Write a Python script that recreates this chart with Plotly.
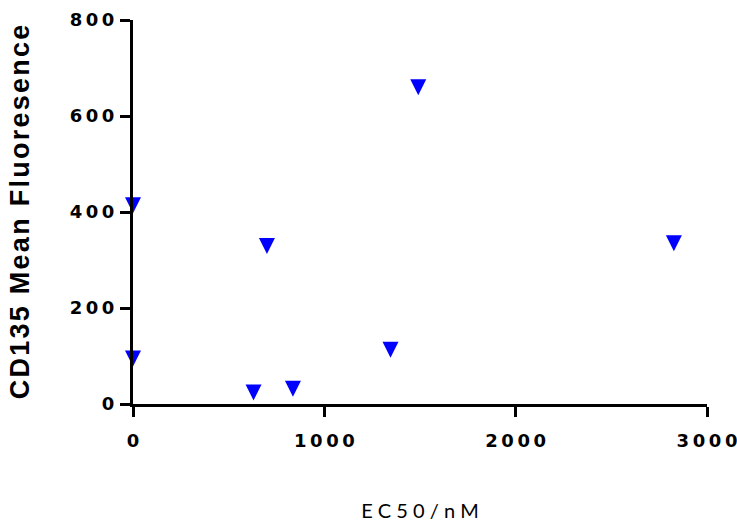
import plotly.graph_objects as go

# Data
ec50_nM = [0, 0, 630, 700, 836, 1346, 1491, 2827]
cd135_mfi = [414, 95, 24, 329, 32, 113, 660, 335]

x_tick_vals = [0, 1000, 2000, 3000]
x_tick_labels = ["0", "1000", "2000", "3000"]
y_tick_vals = [0, 200, 400, 600, 800]
y_tick_labels = ["0", "200", "400", "600", "800"]

x_title = "EC50/nM"
y_title = "CD135 Mean Fluoresence"

SP = "\u2009"   # thin space between tick-label digits
HS = "\u200a"   # hair space for y title


def spaced(s, sep):
    return sep.join(list(s))


fig = go.Figure()
fig.add_trace(go.Scatter(
    x=ec50_nM, y=cd135_mfi, mode="markers",
    marker=dict(symbol="arrow-down", angle=0, standoff=8, size=16, color="#0000FF",
                line=dict(width=0)),
    cliponaxis=False, showlegend=False,
))

axis_common = dict(
    showline=True, linecolor="black", linewidth=3,
    ticks="outside", ticklen=10, tickwidth=3, tickcolor="black",
    showgrid=False, zeroline=False, automargin=False,
    ticklabeloverflow="allow",
    tickfont=dict(family="DejaVu Sans", size=18, color="black", weight="bold"),
)

fig.update_layout(
    width=737, height=523,
    margin=dict(l=133, r=30, t=20, b=119),
    plot_bgcolor="white", paper_bgcolor="white",
    xaxis=dict(range=[0, 3000], tickvals=x_tick_vals,
               ticktext=[spaced(t, SP) for t in x_tick_labels],
               ticklabelstandoff=8,
               title=dict(text=" ".join(list(x_title)),
                          font=dict(family="Lato", size=20, color="black"), standoff=55),
               **axis_common),
    yaxis=dict(range=[0, 800], tickvals=y_tick_vals,
               ticktext=[spaced(t, SP) for t in y_tick_labels],
               ticklabelstandoff=2,
               title=dict(text=spaced(y_title, HS),
                          font=dict(family="Liberation Sans", size=27, color="black", weight="bold"),
                          standoff=33),
               **axis_common),
)

fig.write_html("out.html")
